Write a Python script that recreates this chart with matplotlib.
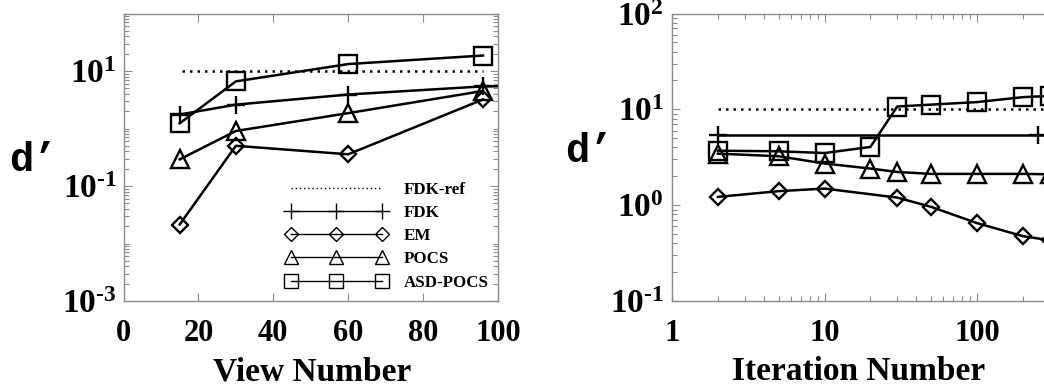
import matplotlib
matplotlib.use("Agg")
import matplotlib.pyplot as plt
from matplotlib.ticker import FixedLocator, FixedFormatter, NullFormatter, LogLocator
import numpy as np

# ---------------- data ----------------
# Left panel: d' vs view number
views_ref = [15.5, 96]
fdkref_left = [10, 10]
views_fdk = [15, 30, 60, 96, 128]
fdk_left = [1.75, 2.6, 3.9, 5.4, 5.6]
views = [15, 30, 60, 96]
em_left = [0.0214, 0.5, 0.356, 3.2]
pocs_left = [0.29, 0.905, 1.85, 4.5]
asd_left = [1.23, 6.6, 13.2, 18.6]

# Right panel: d' vs iteration number
iters_ref = [2, 1000]
fdkref_right = [10, 10]
iters_fdk = [2, 250, 1000]
fdk_right = [5.45, 5.45, 5.45]
iters = [2, 5, 10, 20, 30, 50, 100, 200, 300]
em_iters = [2, 5, 10, 30, 50, 100, 200, 300]
em_right = [1.22, 1.40, 1.49, 1.2, 0.96, 0.65, 0.475, 0.43]
pocs_right = [3.45, 3.24, 2.72, 2.41, 2.22, 2.12, 2.12, 2.12, 2.1]
asd_right = [3.7, 3.65, 3.5, 4.05, 10.7, 11.2, 11.9, 13.4, 13.8]

left_xticks = [0, 20, 40, 60, 80, 100]
left_yticks = [1e-3, 1e-1, 1e1]
left_yticklabels = [r'$\mathbf{10^{\text{-}3}}$', r'$\mathbf{10^{\text{-}1}}$', r'$\mathbf{10^{1}}$']
right_xticks = [1, 10, 100]
right_xticklabels = ['1', '10', '100']
right_yticks = [1e-1, 1e0, 1e1, 1e2]
right_yticklabels = [r'$\mathbf{10^{\text{-}1}}$', r'$\mathbf{10^{0}}$', r'$\mathbf{10^{1}}$', r'$\mathbf{10^{2}}$']
legend_labels = ['FDK-ref', 'FDK', 'EM', 'POCS', 'ASD-POCS']

# ---------------- style ----------------
plt.rcParams['font.family'] = ['Liberation Serif', 'DejaVu Serif']
plt.rcParams['font.weight'] = 'bold'
plt.rcParams['mathtext.fontset'] = 'custom'
plt.rcParams['mathtext.rm'] = 'Liberation Serif:bold'
plt.rcParams['mathtext.bf'] = 'Liberation Serif:bold'
plt.rcParams['mathtext.it'] = 'Liberation Serif:bold'

W, H = 1044, 390
fig = plt.figure(figsize=(W / 100, H / 100), dpi=100)

def px_axes(l, r, t, b):
    return [l / W, (H - b) / H, (r - l) / W, (b - t) / H]

R_LEFT = 672
R_WIDTH = 3 * 152.5
axL = fig.add_axes(px_axes(123.5, 498, 13.5, 301))
axR = fig.add_axes(px_axes(R_LEFT, R_LEFT + R_WIDTH, 13.5, 301))

LW = 1.8
MEW = 1.7
dot = (0, (1, 2))
spine_col = '#8c8c8c'

def style_axes(ax):
    for s in ax.spines.values():
        s.set_color(spine_col)
        s.set_linewidth(1.0)
    ax.tick_params(which='both', direction='in', top=True, right=True,
                   color=spine_col, width=0.8)
    ax.tick_params(axis='x', labelsize=22, pad=13)
    ax.tick_params(axis='y', labelsize=24)
    ax.tick_params(which='major', length=6)
    ax.tick_params(which='minor', length=3.5)

def plot_series(ax, xs_ref, y_ref, xs_fdk, y_fdk, xs, em_x, y_em, y_pocs, y_asd):
    ax.plot(xs_ref, y_ref, color='black', lw=LW, ls=dot, label=legend_labels[0])
    ax.plot(xs_fdk, y_fdk, color='black', lw=LW, marker='+', ms=13, mew=MEW,
            label=legend_labels[1])
    ax.plot(em_x, y_em, color='black', lw=LW, marker='D', ms=8.5, mew=MEW,
            mfc='none', label=legend_labels[2])
    ax.plot(xs, y_pocs, color='black', lw=LW, marker='^', ms=13, mew=MEW,
            mfc='none', label=legend_labels[3])
    ax.plot(xs, y_asd, color='black', lw=LW, marker='s', ms=12.5, mew=MEW,
            mfc='none', label=legend_labels[4])

# ---------------- left panel ----------------
plot_series(axL, views_ref, fdkref_left, views_fdk, fdk_left, views, views,
            em_left, pocs_left, asd_left)
axL.set_yscale('log')
axL.set_xlim(0, 100)
axL.set_ylim(1e-3, 1e2)
style_axes(axL)
axL.xaxis.set_major_locator(FixedLocator(left_xticks))
axL.set_xticklabels([str(v) for v in left_xticks])
axL.yaxis.set_major_locator(FixedLocator(left_yticks))
axL.yaxis.set_major_formatter(FixedFormatter(left_yticklabels))
minorL = []
for e in range(-3, 2):
    for k in range(1, 10):
        v = k * 10.0 ** e
        if v not in left_yticks:
            minorL.append(v)
minorL.append(100.0)
axL.yaxis.set_minor_locator(FixedLocator(minorL))
axL.yaxis.set_minor_formatter(NullFormatter())
axL.tick_params(axis='y', pad=5)
axL.set_xlabel('View Number', fontsize=24, fontweight='bold', va='baseline')
axL.xaxis.set_label_coords(0.503, -0.278)
axL.set_ylabel('d’', fontsize=29, fontweight='bold', family='Liberation Mono',
               rotation=0, va='center', ha='center')
axL.yaxis.set_label_coords(-0.24, 0.49)

leg = axL.legend(loc='center left', bbox_to_anchor=(0.41, 0.225),
                 frameon=False, numpoints=3, handlelength=6.0,
                 handletextpad=1.0, labelspacing=0.42, borderpad=0,
                 prop={'family': 'Liberation Serif', 'weight': 'bold', 'size': 12.2})
for h in leg.legend_handles:
    h.set_linewidth(1.0)
    h.set_markeredgewidth(1.0)
    m = h.get_marker()
    if m == 's':
        h.set_markersize(10)
    elif m == '^':
        h.set_markersize(10)
    elif m == 'D':
        h.set_markersize(7)
    elif m == '+':
        h.set_markersize(11)

# ---------------- right panel ----------------
plot_series(axR, iters_ref, fdkref_right, iters_fdk, fdk_right, iters, em_iters,
            em_right, pocs_right, asd_right)
axR.set_xscale('log')
axR.set_yscale('log')
axR.set_xlim(1, 1000)
axR.set_ylim(0.1, 100)
style_axes(axR)
axR.xaxis.set_major_locator(FixedLocator(right_xticks))
axR.xaxis.set_major_formatter(FixedFormatter(right_xticklabels))
axR.xaxis.set_minor_locator(LogLocator(base=10, subs=np.arange(2, 10)))
axR.xaxis.set_minor_formatter(NullFormatter())
axR.yaxis.set_major_locator(FixedLocator(right_yticks))
axR.yaxis.set_major_formatter(FixedFormatter(right_yticklabels))
axR.yaxis.set_minor_locator(LogLocator(base=10, subs=np.arange(2, 10)))
axR.yaxis.set_minor_formatter(NullFormatter())
axR.tick_params(axis='y', pad=6)
axR.set_xlabel('Iteration Number', fontsize=24, fontweight='bold', va='baseline')
axR.xaxis.set_label_coords((859 - R_LEFT) / R_WIDTH, -0.275)
axR.set_ylabel('d’', fontsize=29, fontweight='bold', family='Liberation Mono',
               rotation=0, va='center', ha='center')
axR.yaxis.set_label_coords(-0.18, 0.52)

fig.savefig('out.png', dpi=100)
